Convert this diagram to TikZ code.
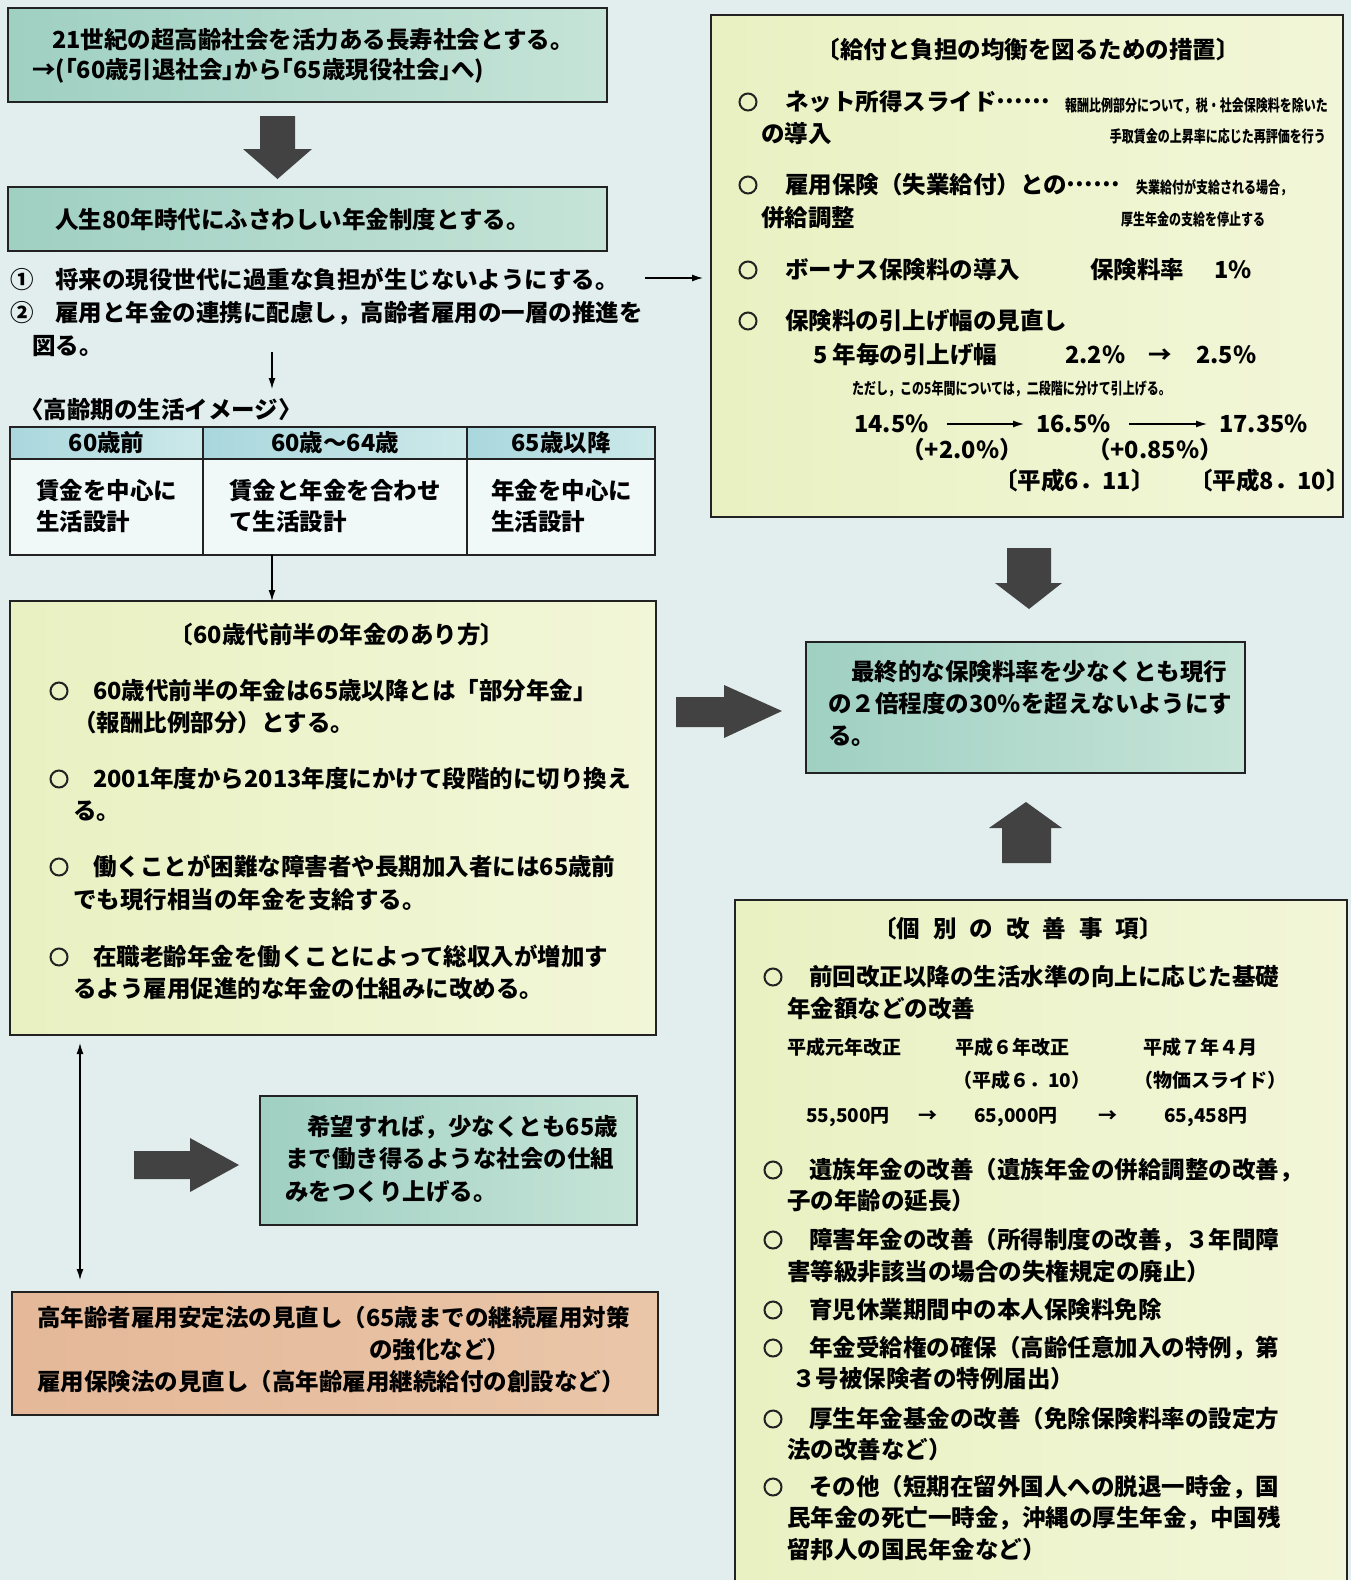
\documentclass[tikz,border=0pt]{standalone}
\usepackage{fontspec}
\setmainfont{Noto Sans CJK JP}
\newfontfamily\condf{Noto Sans CJK JP}[FakeStretch=0.75]
\usetikzlibrary{arrows.meta}
\definecolor{bgc}{HTML}{E2EEEE}
\definecolor{linec}{HTML}{222222}
\definecolor{tealL}{HTML}{9FD0C2}
\definecolor{tealR}{HTML}{C6E4D8}
\definecolor{yelL}{HTML}{E9F1C2}
\definecolor{yelR}{HTML}{F2F6D8}
\definecolor{hdrL}{HTML}{A9D7DD}
\definecolor{hdrR}{HTML}{CDE9EA}
\definecolor{cellc}{HTML}{F1F8F8}
\definecolor{salL}{HTML}{E4B898}
\definecolor{salR}{HTML}{EAC6A8}
\definecolor{arrowc}{HTML}{424242}
\newcommand\dotsmid{\raisebox{7pt}{……}}
\begin{document}
\begin{tikzpicture}[x=1pt,y=-1pt,
  font=\bfseries\fontsize{23.5}{28}\selectfont,
  box/.style={draw=linec, line width=1.6pt, anchor=north west, inner sep=0pt, outer sep=0pt},
  tealbox/.style={box, left color=tealL, right color=tealR},
  yelbox/.style={box, left color=yelL, right color=yelR},
  t/.style={anchor=west, inner sep=0pt, text height=20pt, text depth=3pt},
  tc/.style={t, anchor=center},
  bul/.style={anchor=center, inner sep=0pt, circle, draw=linec, line width=2pt, minimum size=17pt},
  ts/.style={anchor=west, inner sep=0pt, font=\condf\bfseries\fontsize{16}{18}\selectfont, text height=14pt, text depth=2pt},
  tm/.style={anchor=west, inner sep=0pt, font=\bfseries\fontsize{19}{22}\selectfont, text height=16pt, text depth=3pt},
  arr/.style={line width=1.3pt, -{Latex[length=11pt,width=7pt]}},
  darr/.style={line width=1.3pt, {Latex[length=11pt,width=7pt]}-{Latex[length=11pt,width=7pt]}},
  blk/.style={fill=arrowc},
]
\useasboundingbox (0,0) rectangle (1351,1580);
\fill[bgc] (0,0) rectangle (1351,1580);
\clip (0,0) rectangle (1351,1580);

% ---------- Box 1 ----------
\node[tealbox, minimum width=599pt, minimum height=94pt] (b1) at (8,8) {};
\node[t] (b1a) at (52,40) {21世紀の超高齢社会を活力ある長寿社会とする。};
\node[t] (b1b) at (32,70) {→(｢60歳引退社会｣から｢65歳現役社会｣へ)};

% block arrow down
\fill[blk] (260,116) -- (295,116) -- (295,149) -- (312,149) -- (277.5,179) -- (243,149) -- (260,149) -- cycle;

% ---------- Box 2 ----------
\node[tealbox, minimum width=599pt, minimum height=64pt] (b2) at (8,187) {};
\node[t] (b2a) at (55,220) {人生80年時代にふさわしい年金制度とする。};

\node[tc] (n1) at (22,280) {①};
\node[t] (n1t) at (55,280) {将来の現役世代に過重な負担が生じないようにする。};
\node[tc] (n2) at (22,313) {②};
\node[t] (n2t) at (55,313) {雇用と年金の連携に配慮し，高齢者雇用の一層の推進を};
\node[t] (n2u) at (32,346) {図る。};

% ---------- Top right box ----------
\node[yelbox, minimum width=632pt, minimum height=502pt] (b6) at (711,15) {};
\coordinate (a1) at (645,278);
\draw[arr, shorten >=8pt] (a1) -- (a1 -| b6.west);

\node[tc] (r0) at (1028,50) {〔給付と負担の均衡を図るための措置〕};
\node[bul] (rc1) at (748,102) {};
\node[t] (r1a) at (785,102) {ネット所得スライド\dotsmid};
\node[t] (r1b) at (761,134) {の導入};
\node[ts, anchor=east] (r1s1) at (1328,105) {報酬比例部分について，税・社会保険料を除いた};
\node[ts, anchor=east] (r1s2) at (1326,136) {手取賃金の上昇率に応じた再評価を行う};
\node[bul] (rc2) at (748,185) {};
\node[t] (r2a) at (785,185) {雇用保険（失業給付）との\dotsmid};
\node[t] (r2b) at (761,218) {併給調整};
\node[ts] (r2s1) at (1136,187) {失業給付が支給される場合，};
\node[ts] (r2s2) at (1121,219) {厚生年金の支給を停止する};
\node[bul] (rc3) at (748,270) {};
\node[t] (r3a) at (785,270) {ボーナス保険料の導入};
\node[t] (r3b) at (1090,270) {保険料率};
\node[t] (r3c) at (1214,270) {1\%};
\node[bul] (rc4) at (748,321) {};
\node[t] (r4a) at (785,321) {保険料の引上げ幅の見直し};
\node[t] (r4b) at (813,355) {5 年毎の引上げ幅};
\node[t] (r4c) at (1065,355) {2.2\%};
\node[t] (r4d) at (1148,355) {→};
\node[t] (r4e) at (1196,355) {2.5\%};
\node[ts] (r4s) at (852,388) {ただし，この5年間については，二段階に分けて引上げる。};
\node[t] (p1) at (854,424) {14.5\%};
\node[t] (p2) at (1036,424) {16.5\%};
\node[t] (p3) at (1219,424) {17.35\%};
\draw[arr, shorten <=18pt, shorten >=12pt] (p1.east) -- (p2.west);
\draw[arr, shorten <=18pt, shorten >=12pt] (p2.east) -- (p3.west);
\node[tc] (q1) at (962,450) {（+2.0\%）};
\node[tc] (q2) at (1155,450) {（+0.85\%）};
\node[t] (d1) at (994,481) {〔平成6．11〕};
\node[t] (d2) at (1189,481) {〔平成8．10〕};

% ---------- Life image table ----------
\coordinate (ax) at (272,0);
\draw[arr] (272,352) -- (272,389);
\node[t] (lbl) at (20,410) {〈高齢期の生活イメージ〉};
\node[box, minimum width=193pt, minimum height=32pt, left color=hdrL, right color=hdrR] (h1) at (10,427) {};
\node[box, minimum width=264pt, minimum height=32pt, left color=hdrL, right color=hdrR] (h2) at (203,427) {};
\node[box, minimum width=188pt, minimum height=32pt, left color=hdrL, right color=hdrR] (h3) at (467,427) {};
\node[box, fill=cellc, minimum width=193pt, minimum height=96pt] (c1) at (10,459) {};
\node[box, fill=cellc, minimum width=264pt, minimum height=96pt] (c2) at (203,459) {};
\node[box, fill=cellc, minimum width=188pt, minimum height=96pt] (c3) at (467,459) {};
\node[tc] (h1t) at (h1.center) {60歳前};
\node[tc] (h2t) at (h2.center) {60歳〜64歳};
\node[tc] (h3t) at (h3.center) {65歳以降};
\node[t] (c1a) at (36,491) {賃金を中心に};
\node[t] (c1b) at (36,522) {生活設計};
\node[t] (c2a) at (229,491) {賃金と年金を合わせ};
\node[t] (c2b) at (229,522) {て生活設計};
\node[t] (c3a) at (491,491) {年金を中心に};
\node[t] (c3b) at (491,522) {生活設計};

% ---------- Box 3 ----------
\node[yelbox, minimum width=646pt, minimum height=434pt] (b3) at (10,601) {};
\draw[arr] (c1.south -| ax) -- (b3.north -| ax);
\node[tc] (l0) at (337,635) {〔60歳代前半の年金のあり方〕};
\node[bul] (lc1) at (59,691) {};
\node[t] (l1a) at (93,691) {60歳代前半の年金は65歳以降とは「部分年金」};
\node[t] (l1b) at (73,723) {（報酬比例部分）とする。};
\node[bul] (lc2) at (59,779) {};
\node[t] (l2a) at (93,779) {2001年度から2013年度にかけて段階的に切り換え};
\node[t] (l2b) at (73,811) {る。};
\node[bul] (lc3) at (59,867) {};
\node[t] (l3a) at (93,867) {働くことが困難な障害者や長期加入者には65歳前};
\node[t] (l3b) at (73,900) {でも現行相当の年金を支給する。};
\node[bul] (lc4) at (59,957) {};
\node[t] (l4a) at (93,957) {在職老齢年金を働くことによって総収入が増加す};
\node[t] (l4b) at (73,989) {るよう雇用促進的な年金の仕組みに改める。};

% ---------- Box 4 ----------
\node[tealbox, minimum width=377pt, minimum height=129pt] (b4) at (260,1096) {};
\node[t] (b4a) at (307,1127) {希望すれば，少なくとも65歳};
\node[t] (b4b) at (285,1159) {まで働き得るような社会の仕組};
\node[t] (b4c) at (285,1192) {みをつくり上げる。};
\fill[blk] (134,1151) -- (190,1151) -- (190,1138) -- (239,1165) -- (190,1192) -- (190,1179) -- (134,1179) -- cycle;

% ---------- Box 5 ----------
\node[box, left color=salL, right color=salR, minimum width=646pt, minimum height=123pt] (b5) at (12,1292) {};
\node[t] (b5a) at (37,1318) {高年齢者雇用安定法の見直し（65歳までの継続雇用対策};
\node[t] (b5b) at (369,1350) {の強化など）};
\node[t] (b5c) at (37,1382) {雇用保険法の見直し（高年齢雇用継続給付の創設など）};
\coordinate (dx) at (80,0);
\draw[darr, shorten <=8pt, shorten >=12pt] (b3.south -| dx) -- (b5.north -| dx);

% ---------- Center box ----------
\fill[blk] (1007,548) -- (1051,548) -- (1051,583) -- (1062,583) -- (1029,609) -- (995,583) -- (1007,583) -- cycle;
\node[tealbox, minimum width=439pt, minimum height=131pt] (b7) at (806,642) {};
\node[t] (b7a) at (851,672) {最終的な保険料率を少なくとも現行};
\node[t] (b7b) at (828,704) {の２倍程度の30\%を超えないようにす};
\node[t] (b7c) at (828,736) {る。};
\fill[blk] (676,697) -- (724,697) -- (724,685) -- (782,711) -- (724,738) -- (724,727) -- (676,727) -- cycle;
\fill[blk] (1002,863) -- (1002,828) -- (989,828) -- (1026,802) -- (1062,828) -- (1051,828) -- (1051,863) -- cycle;

% ---------- Bottom right box ----------
\node[yelbox, minimum width=612pt, minimum height=700pt] (b8) at (735,900) {};
\node[tc] (k0) at (1018,929) {〔個\hspace{13pt}別\hspace{13pt}の\hspace{13pt}改\hspace{13pt}善\hspace{13pt}事\hspace{13pt}項〕};
\node[bul] (kc1) at (773,977) {};
\node[t] (k1a) at (809,977) {前回改正以降の生活水準の向上に応じた基礎};
\node[t] (k1b) at (787,1009) {年金額などの改善};
\node[tm] (m1) at (787,1048) {平成元年改正};
\node[tm] (m2) at (955,1048) {平成６年改正};
\node[tm] (m3) at (1143,1048) {平成７年４月};
\node[tm] (m4) at (953,1081) {（平成６．10）};
\node[tm] (m5) at (1134,1081) {（物価スライド）};
\node[tm] (v1) at (806,1116) {55,500円};
\node[tm] (v2) at (918,1116) {→};
\node[tm] (v3) at (974,1116) {65,000円};
\node[tm] (v4) at (1098,1116) {→};
\node[tm] (v5) at (1164,1116) {65,458円};
\node[bul] (kc2) at (773,1170) {};
\node[t] (k2a) at (809,1170) {遺族年金の改善（遺族年金の併給調整の改善，};
\node[t] (k2b) at (787,1201) {子の年齢の延長）};
\node[bul] (kc3) at (773,1240) {};
\node[t] (k3a) at (809,1240) {障害年金の改善（所得制度の改善，３年間障};
\node[t] (k3b) at (787,1272) {害等級非該当の場合の失権規定の廃止）};
\node[bul] (kc4) at (773,1310) {};
\node[t] (k4a) at (809,1310) {育児休業期間中の本人保険料免除};
\node[bul] (kc5) at (773,1348) {};
\node[t] (k5a) at (809,1348) {年金受給権の確保（高齢任意加入の特例，第};
\node[t] (k5b) at (792,1379) {３号被保険者の特例届出）};
\node[bul] (kc6) at (773,1419) {};
\node[t] (k6a) at (809,1419) {厚生年金基金の改善（免除保険料率の設定方};
\node[t] (k6b) at (787,1450) {法の改善など）};
\node[bul] (kc7) at (773,1487) {};
\node[t] (k7a) at (809,1487) {その他（短期在留外国人への脱退一時金，国};
\node[t] (k7b) at (787,1518) {民年金の死亡一時金，沖縄の厚生年金，中国残};
\node[t] (k7c) at (787,1550) {留邦人の国民年金など）};
\end{tikzpicture}
\end{document}
